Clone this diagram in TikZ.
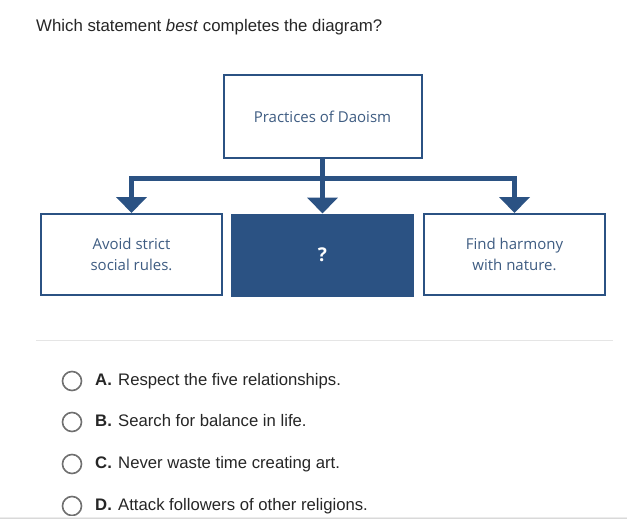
\documentclass[tikz,border=0pt]{standalone}
\usepackage{fontspec}
\setmainfont{Liberation Sans}
\newfontfamily\boxfont{Open Sans}
\usetikzlibrary{arrows.meta}
\definecolor{daoblue}{HTML}{2B5283}
\definecolor{daotext}{HTML}{3E5C82}
\definecolor{radiogray}{HTML}{707070}
\begin{document}
\begin{tikzpicture}[x=1pt, y=-1pt,
  box/.style={rectangle, draw=daoblue, line width=2pt, minimum width=181pt, minimum height=81pt, align=center, font=\boxfont\fontsize{15}{21}\selectfont, text=daotext},
  branch/.style={draw=daoblue, line width=5pt},
  radio/.style={circle, draw=radiogray, line width=1.6pt, minimum size=19pt, inner sep=0pt},
  option/.style={anchor=base west, inner sep=0pt, font=\fontsize{16.7}{19}\selectfont, text=black!85}]
  \useasboundingbox[fill=white] (0,0) rectangle (627,519);

  \node[option, font=\fontsize{16.8}{20}\selectfont] (question) at (36,32) {Which statement \textit{best} completes the diagram?};

  % diagram
  \node[box, minimum width=198pt, minimum height=82pt] (daoism) at (322.5,116.5) {Practices of Daoism};
  \node[box] (strict) at (131.5,254.5) {Avoid strict\\social rules.};
  \node[box, fill=daoblue, text=white, font=\boxfont\bfseries\fontsize{19}{22}\selectfont] (unknown) at (322.5,255) {?};
  \node[box] (harmony) at (514.5,254.5) {Find harmony\\with nature.};

  \coordinate (bar) at (322.5,178);
  \draw[branch] (daoism.south) -- (bar);
  \foreach \child in {strict, unknown, harmony}
    \draw[branch, -{Triangle[width=30pt, length=16pt]}] (bar) -| (\child.north);

  \draw[gray!20, line width=1pt] (36,340) -- (613,340);

  % answers
  \foreach \letter/\answer/\y in {A/Respect the five relationships./381, B/Search for balance in life./422, C/Never waste time creating art./464, D/Attack followers of other religions./506} {
    \node[radio] (radio\letter) at (72,\y) {};
    \node[option] (letter\letter) at (95,\y+4.5) {\textbf{\letter.}};
    \node[option] (answer\letter) at (118,\y+4.5) {\answer};
  }

  \shade[top color=white, bottom color=gray!45] (0,516) rectangle (627,519);
\end{tikzpicture}
\end{document}
